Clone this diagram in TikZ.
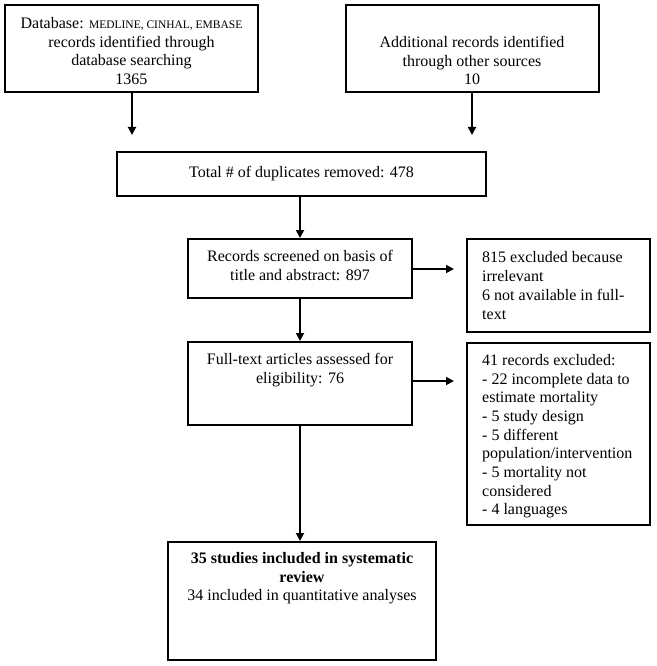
\documentclass[tikz,border=0pt]{standalone}
\usepackage{fontspec}
\setmainfont{Liberation Serif}
\usetikzlibrary{arrows.meta}
\tikzset{
  box/.style={draw=black, line width=2pt, minimum width=#1, inner sep=0pt},
  txt/.style={inner sep=0pt, font=\fontsize{16}{18.7}\selectfont},
  conn/.style={line width=1.8pt, -{Triangle[length=8pt,width=8pt]}},
}
\newcommand{\smallcapsdb}[1]{{\fontsize{11.5}{12}\selectfont #1}}
\begin{document}
\begin{tikzpicture}[x=1pt,y=1pt]
\useasboundingbox (0,0) rectangle (656,-666);
% boxes
\node[box=253pt, minimum height=87pt] (b1) at (131.5,-48.5) {};
\node[box=253pt, minimum height=87pt] (b2) at (472,-48.5) {};
\node[box=369pt, minimum height=44pt, txt] (b3) at (301.5,-174) {Total \# of duplicates removed: 478};
\node[box=224pt, minimum height=59pt] (b4) at (300,-268.5) {};
\node[box=183pt, minimum height=93pt] (b5) at (558.5,-285.5) {};
\node[box=224pt, minimum height=83pt] (b6) at (300,-383.5) {};
\node[box=183pt, minimum height=182pt] (b7) at (558.5,-434) {};
\node[box=268pt, minimum height=118pt] (b8) at (302,-601) {};
% texts
\node[txt, align=center, anchor=north] (t1) at (131.5,-17) {Database: \smallcapsdb{MEDLINE, CINHAL, EMBASE}\\records identified through\\database searching\\1365};
\node[txt, align=center, anchor=north] (t2) at (472,-36) {Additional records identified\\through other sources\\10};
\node[txt, align=center, anchor=north] (t4) at (300,-250) {Records screened on basis of\\title and abstract: 897};
\node[txt, align=left, anchor=west] (t5) at (482,-285.5) {815 excluded because\\irrelevant\\6 not available in full-\\text};
\node[txt, align=center, anchor=north] (t6) at (300,-353) {Full-text articles assessed for\\eligibility: 76};
\node[txt, align=left, anchor=north west] (t7) at (482,-354) {41 records excluded:\\- 22 incomplete data to\\estimate mortality\\- 5 study design\\- 5 different\\population/intervention\\- 5 mortality not\\considered\\- 4 languages};
\node[txt, align=center, anchor=north] (t8) at (302,-552) {\textbf{35 studies included in systematic}\\\textbf{review}\\34 included in quantitative analyses};
% free ends
\coordinate (e1) at (132,-135);
\coordinate (e2) at (472,-135);
\coordinate (e4) at (454,-269);
\coordinate (e6) at (454,-381);
% connectors
\draw[conn] (b1.south -| e1) -- (e1);
\draw[conn] (b2.south) -- (e2);
\draw[conn] (b4.north |- b3.south) -- (b4.north);
\draw[conn] (b4.south) -- (b6.north);
\draw[conn] (b6.south) -- (b6.south |- b8.north);
\draw[conn] (b4.east |- e4) -- (e4);
\draw[conn] (b6.east |- e6) -- (e6);
\end{tikzpicture}
\end{document}
